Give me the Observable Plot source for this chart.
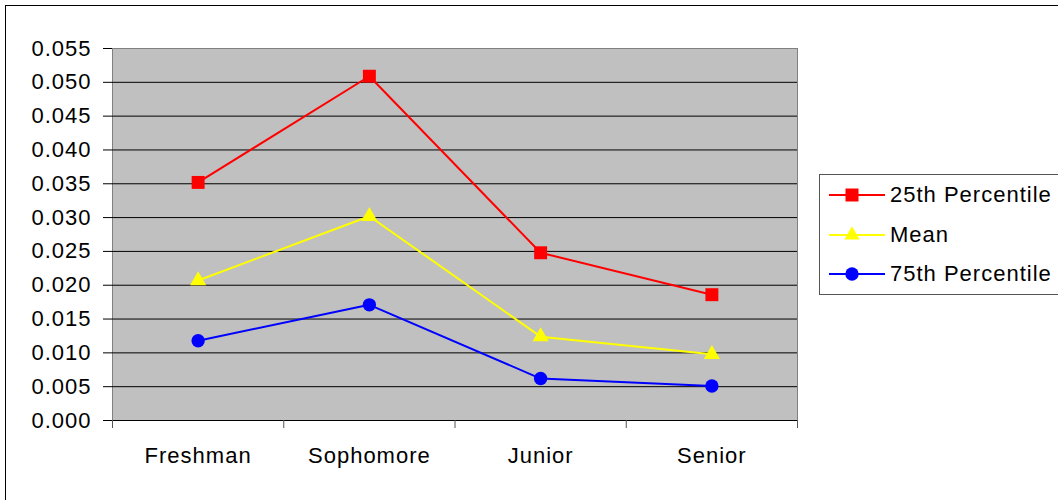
<!DOCTYPE html>
<html>
<head>
<meta charset="utf-8">
<script src="https://cdn.jsdelivr.net/npm/d3@7"></script>
<script src="https://cdn.jsdelivr.net/npm/@observablehq/plot@0.6"></script>
<style>
  html, body { margin: 0; padding: 0; background: #fff; }
  body { width: 1058px; height: 500px; position: relative; overflow: hidden; font-family: "Liberation Sans", Arial, sans-serif; }
  #frame { position: absolute; left: 5px; top: 5px; width: 1060px; height: 500px; border: 1px solid #000; box-sizing: border-box; }
  #chart { position: absolute; left: 0; top: 0; }
  #legend { position: absolute; left: 819px; top: 174px; width: 245px; height: 121px; border: 1px solid #555; box-sizing: border-box; background: #fff; }
  .item { position: absolute; left: 0; height: 40px; display: flex; align-items: center; font-size: 22px; letter-spacing: 1px; color: #000; }
  .item svg { margin-left: 9px; margin-right: 5px; }
</style>
</head>
<body>
<div id="frame"></div>
<div id="chart"></div>
<div id="legend"></div>
<script>
const categories = ["Freshman", "Sophomore", "Junior", "Senior"];
const seriesNames = ["25th Percentile", "Mean", "75th Percentile"];
const p25 = [0.0352, 0.0509, 0.0248, 0.0186];
const mean = [0.0207, 0.0302, 0.0124, 0.0098];
const p75 = [0.0118, 0.0171, 0.0062, 0.0051];
const yTicks = [0, 0.005, 0.010, 0.015, 0.020, 0.025, 0.030, 0.035, 0.040, 0.045, 0.050, 0.055];
const colors = ["#ff0000", "#ffff00", "#0000ff"];
const symbols = ["square", "triangle", "circle"];

const seriesValues = [p25, mean, p75];
const rows = [];
seriesValues.forEach((vals, s) => vals.forEach((v, i) => rows.push({series: seriesNames[s], i, value: v})));
const idx = categories.map((d, i) => i);
const bounds = d3.range(categories.length + 1).map(i => i - 0.5);

const chart = Plot.plot({
  width: 1058,
  height: 500,
  marginLeft: 112,
  marginRight: 261,
  marginTop: 48,
  marginBottom: 80,
  style: {fontFamily: '"Liberation Sans", Arial, sans-serif', fontSize: "22px", letterSpacing: "1px", color: "#000", background: "transparent", overflow: "visible"},
  x: {type: "linear", domain: [-0.5, categories.length - 0.5]},
  y: {domain: [0, 0.055]},
  color: {domain: seriesNames, range: colors},
  symbol: {domain: seriesNames, range: symbols},
  marks: [
    Plot.frame({fill: "#c0c0c0", stroke: "#808080"}),
    Plot.gridY(yTicks.filter(d => d > 0 && d < 0.055), {stroke: "#000", strokeOpacity: 1, strokeWidth: 1}),
    Plot.ruleY([0], {stroke: "#000", strokeWidth: 1.2}),
    Plot.axisY(yTicks, {tickFormat: d3.format(".3f"), tickSize: 9, tickPadding: 12, stroke: "#000", fill: "#000", label: null}),
    Plot.axisX(idx, {tickFormat: i => categories[i], tickSize: 0, tickPadding: 27, fill: "#000", label: null}),
    Plot.axisX(bounds, {tickFormat: () => "", tickSize: 8, stroke: "#555", label: null}),
    Plot.line(rows, {x: "i", y: "value", z: "series", stroke: "series", strokeWidth: 2}),
    Plot.dot(rows.filter(d => d.series === seriesNames[0]), {x: "i", y: "value", symbol: "series", fill: "series", r: 7.3}),
    Plot.dot(rows.filter(d => d.series === seriesNames[1]), {x: "i", y: "value", symbol: "series", fill: "series", r: 6}),
    Plot.dot(rows.filter(d => d.series === seriesNames[2]), {x: "i", y: "value", symbol: "series", fill: "series", r: 6.7})
  ]
});
document.getElementById("chart").appendChild(chart);

// Legend
const legend = document.getElementById("legend");
const symSizes = [13 * 13, 100, Math.PI * 6.7 * 6.7];
const d3syms = [d3.symbolSquare, d3.symbolTriangle, d3.symbolCircle];
const tops = [0, 40, 79];
seriesNames.forEach((name, s) => {
  const item = document.createElement("div");
  item.className = "item";
  item.style.top = tops[s] + "px";
  const svg = d3.create("svg").attr("width", 56).attr("height", 20);
  svg.append("line").attr("x1", 0).attr("x2", 56).attr("y1", 10).attr("y2", 10).attr("stroke", colors[s]).attr("stroke-width", 2);
  svg.append("path").attr("d", d3.symbol(d3syms[s], symSizes[s])()).attr("transform", "translate(23,10)").attr("fill", colors[s]);
  item.appendChild(svg.node());
  const t = document.createElement("span");
  t.textContent = name;
  item.appendChild(t);
  legend.appendChild(item);
});
</script>
</body>
</html>
